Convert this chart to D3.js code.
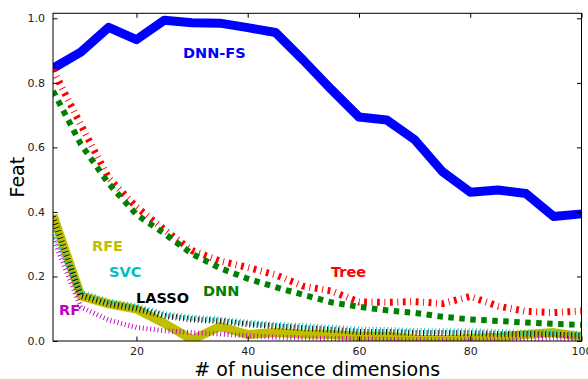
<!DOCTYPE html>
<html><head><meta charset="utf-8">
<script src="https://cdn.jsdelivr.net/npm/d3@7"></script>
<style>html,body{margin:0;padding:0;background:#fff;}svg{display:block;font-family:"DejaVu Sans",sans-serif;}</style>
</head><body>
<svg id="c" width="588" height="379"></svg>
<script>
const dims = [5,10,15,20,25,30,35,40,45,50,55,60,65,70,75,80,85,90,95,100];
const dnnfs = [0.845,0.895,0.972,0.934,0.994,0.986,0.985,0.971,0.956,0.87,0.78,0.694,0.685,0.624,0.525,0.461,0.468,0.457,0.386,0.394];
const tree  = [0.84,0.67,0.505,0.415,0.345,0.28,0.248,0.228,0.205,0.17,0.155,0.121,0.12,0.122,0.116,0.138,0.108,0.092,0.088,0.093];
const dnn   = [0.775,0.61,0.488,0.392,0.333,0.27,0.226,0.193,0.167,0.143,0.12,0.106,0.095,0.087,0.075,0.067,0.062,0.057,0.053,0.05];
const rfe   = [0.39,0.14,0.115,0.099,0.055,0.004,0.045,0.02,0.026,0.022,0.02,0.015,0.015,0.006,0.005,0.008,0.012,0.02,0.026,0.013];
const svc   = [0.34,0.15,0.122,0.107,0.083,0.072,0.066,0.057,0.05,0.046,0.041,0.035,0.034,0.031,0.03,0.03,0.028,0.026,0.025,0.021];
const lasso = [0.385,0.14,0.115,0.1,0.078,0.067,0.062,0.052,0.046,0.04,0.035,0.028,0.028,0.025,0.025,0.024,0.022,0.022,0.02,0.016];
const rf    = [0.32,0.105,0.065,0.042,0.032,0.026,0.022,0.016,0.012,0.01,0.008,0.007,0.005,0.003,0.003,0.003,0.004,0.006,0.01,0.005];
const xTicks = [20,40,60,80,100];
const yTicks = [0.0,0.2,0.4,0.6,0.8,1.0];
const seriesNames = ["DNN-FS","Tree","DNN","RFE","SVC","LASSO","RF"];

const series = [
  {name:"DNN-FS", v:dnnfs, color:"#0000ff", w:9, dash:null},
  {name:"Tree", v:tree, color:"#ff0000", w:7, dash:"2.8,4.6,0.9,4.6"},
  {name:"DNN", v:dnn, color:"#008000", w:6, dash:"5.5,5.5"},
  {name:"RFE", v:rfe, color:"#bfbf00", w:9, dash:null},
  {name:"SVC", v:svc, color:"#00bfbf", w:6, dash:"0.9,2.8"},
  {name:"LASSO", v:lasso, color:"#000000", w:6, dash:"0.9,2.8"},
  {name:"RF", v:rf, color:"#bf00bf", w:5, dash:"0.9,2.8"}
];
const labels = [
  {t:"DNN-FS", x:183, y:58, c:"#0000ff"},
  {t:"Tree", x:331, y:277, c:"#ff0000"},
  {t:"DNN", x:203, y:296, c:"#008000"},
  {t:"RFE", x:92, y:251, c:"#bfbf00"},
  {t:"SVC", x:109, y:277, c:"#00bfbf"},
  {t:"LASSO", x:136, y:303, c:"#000000"},
  {t:"RF", x:59, y:315, c:"#bf00bf"}
];

const L=53, R=581.5, T=13.3, B=341;
const x = d3.scaleLinear().domain([5,100]).range([L,R]);
const y = d3.scaleLinear().domain([0,1.0155]).range([B,T]);
const svg = d3.select("#c");
svg.append("defs").append("clipPath").attr("id","clip")
  .append("rect").attr("x",L).attr("y",T).attr("width",R-L).attr("height",B-T);

const g = svg.append("g").attr("clip-path","url(#clip)");
const line = d3.line().x((d,i)=>x(dims[i])).y(d=>y(d));
series.forEach(s=>{
  const p = g.append("path").datum(s.v).attr("d",line)
    .attr("fill","none").attr("stroke",s.color).attr("stroke-width",s.w)
    .attr("stroke-linejoin","round").attr("stroke-linecap","butt");
  if(s.dash) p.attr("stroke-dasharray",s.dash);
});

// axes
const tickLen = 4.5;
const ax = svg.append("g").attr("transform",`translate(0,${B})`)
  .call(d3.axisBottom(x).tickValues(xTicks).tickSizeInner(-tickLen).tickSizeOuter(0).tickPadding(6).tickFormat(d3.format("d")));
const axT = svg.append("g").attr("transform",`translate(0,${T})`)
  .call(d3.axisTop(x).tickValues(xTicks).tickSizeInner(-tickLen).tickSizeOuter(0).tickFormat(""));
const ay = svg.append("g").attr("transform",`translate(${L},0)`)
  .call(d3.axisLeft(y).tickValues(yTicks).tickSizeInner(-tickLen).tickSizeOuter(0).tickPadding(8).tickFormat(d3.format(".1f")));
const ayR = svg.append("g").attr("transform",`translate(${R},0)`)
  .call(d3.axisRight(y).tickValues(yTicks).tickSizeInner(-tickLen).tickSizeOuter(0).tickFormat(""));
[ax,axT,ay,ayR].forEach(a=>{
  a.select(".domain").remove();
  a.selectAll("line").attr("stroke","#000").attr("stroke-width",1);
  a.selectAll("text").attr("font-size",11).attr("fill","#222").attr("font-family","DejaVu Sans");
});
svg.append("rect").attr("x",L).attr("y",T).attr("width",R-L).attr("height",B-T)
  .attr("fill","none").attr("stroke","#000").attr("stroke-width",1);

// labels
labels.forEach(l=>{
  svg.append("text").attr("x",l.x).attr("y",l.y).text(l.t)
    .attr("fill",l.c).attr("font-weight","bold").attr("font-size",14.5);
});
svg.append("text").attr("x",(L+R)/2).attr("y",376).attr("text-anchor","middle")
  .attr("font-size",19).attr("fill","#000").text("# of nuisence dimensions");
svg.append("text").attr("transform",`translate(24,${(T+B)/2}) rotate(-90)`).attr("text-anchor","middle")
  .attr("font-size",19).attr("fill","#000").text("Feat");
</script>
</body></html>
